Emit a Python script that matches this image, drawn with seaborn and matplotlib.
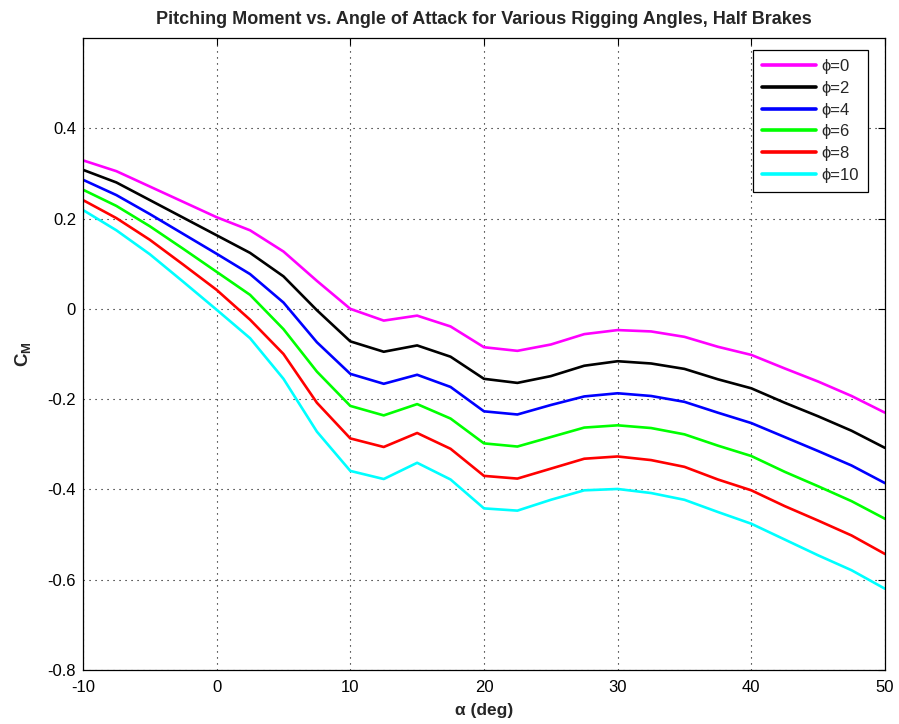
import numpy as np
import pandas as pd
import matplotlib
matplotlib.use("Agg")
import matplotlib.pyplot as plt
from matplotlib.lines import Line2D
import seaborn as sns

# Angle of attack (deg)
alpha = [-10, -7.5, -5, -2.5, 0, 2.5, 5, 7.5, 10, 12.5, 15, 17.5, 20, 22.5,
         25, 27.5, 30, 32.5, 35, 37.5, 40, 42.5, 45, 47.5, 50]

# Pitching moment coefficient for each rigging angle
cm_phi0 = [0.329, 0.305, 0.271, 0.237, 0.203, 0.174, 0.127, 0.062, 0.000,
           -0.026, -0.015, -0.039, -0.085, -0.093, -0.079, -0.056, -0.047,
           -0.050, -0.062, -0.084, -0.102, -0.132, -0.161, -0.193, -0.230]
cm_phi2 = [0.308, 0.280, 0.241, 0.202, 0.163, 0.124, 0.072, -0.003, -0.072,
           -0.095, -0.081, -0.106, -0.155, -0.164, -0.149, -0.126, -0.116,
           -0.121, -0.133, -0.156, -0.176, -0.208, -0.238, -0.270, -0.308]
cm_phi4 = [0.286, 0.252, 0.210, 0.166, 0.122, 0.077, 0.014, -0.074, -0.144,
           -0.166, -0.146, -0.173, -0.227, -0.234, -0.213, -0.194, -0.187,
           -0.193, -0.206, -0.230, -0.253, -0.284, -0.315, -0.347, -0.386]
cm_phi6 = [0.264, 0.228, 0.183, 0.133, 0.082, 0.031, -0.045, -0.139, -0.215,
           -0.236, -0.211, -0.243, -0.298, -0.305, -0.284, -0.263, -0.258,
           -0.264, -0.278, -0.303, -0.326, -0.361, -0.393, -0.426, -0.465]
cm_phi8 = [0.241, 0.201, 0.153, 0.098, 0.042, -0.024, -0.100, -0.208, -0.287,
           -0.306, -0.275, -0.310, -0.370, -0.376, -0.354, -0.332, -0.327,
           -0.335, -0.350, -0.378, -0.402, -0.437, -0.469, -0.502, -0.543]
cm_phi10 = [0.219, 0.174, 0.121, 0.060, -0.002, -0.065, -0.155, -0.272, -0.359,
            -0.377, -0.341, -0.378, -0.442, -0.447, -0.423, -0.402, -0.399,
            -0.408, -0.423, -0.450, -0.476, -0.511, -0.546, -0.579, -0.620]

labels = ["ϕ=0", "ϕ=2", "ϕ=4", "ϕ=6", "ϕ=8", "ϕ=10"]
colors = ["#FF00FF", "#000000", "#0000FF", "#00FF00", "#FF0000", "#00FFFF"]
series = [cm_phi0, cm_phi2, cm_phi4, cm_phi6, cm_phi8, cm_phi10]

xticks = [-10, 0, 10, 20, 30, 40, 50]
yticks = [-0.8, -0.6, -0.4, -0.2, 0, 0.2, 0.4]

df = pd.concat(
    [pd.DataFrame({"alpha": alpha, "cm": s, "rig": lab}) for lab, s in zip(labels, series)],
    ignore_index=True,
)

sns.set_style("white")
plt.rcParams["font.family"] = ["Liberation Sans", "DejaVu Sans"]

fig = plt.figure(figsize=(8.99, 7.24), dpi=100)
ax = fig.add_axes([0.0923, 0.0746, 0.8921, 0.8729])

sns.lineplot(data=df, x="alpha", y="cm", hue="rig", hue_order=labels,
             palette=colors, linewidth=1.9, ax=ax, legend=False)

ax.set_xlim(-10, 50)
ax.set_ylim(-0.8, 0.6)
ax.set_xticks(xticks)
ax.set_yticks(yticks)
ax.set_xticklabels([f"{v:g}" for v in xticks])
ax.set_yticklabels([f"{v:g}" for v in yticks])

ax.grid(True, linestyle=(0, (1, 4.4)), color="black", linewidth=0.8)
ax.tick_params(direction="in", length=5, width=0.8, labelsize=12,
               top=True, right=True, colors="black")
ax.tick_params(axis="x", pad=7)
ax.tick_params(axis="y", pad=5)
for sp in ax.spines.values():
    sp.set_visible(True)
    sp.set_color("black")
    sp.set_linewidth(0.9)

ax.set_title("Pitching Moment vs. Angle of Attack for Various Rigging Angles, Half Brakes",
             fontsize=13, fontweight="bold", pad=10)
ax.set_xlabel("α (deg)", fontsize=12.5, fontweight="bold", labelpad=6)
ax.set_ylabel(r"C$_\mathregular{M}$", fontsize=13.5, fontweight="bold", labelpad=10)

handles = [Line2D([0], [0], color=c, linewidth=2.6) for c in colors]
leg = ax.legend(handles, labels, loc="upper right", bbox_to_anchor=(0.979, 0.981),
                fontsize=12, frameon=True, fancybox=False, edgecolor="black",
                framealpha=1, handlelength=3.25, handletextpad=0.3,
                labelspacing=0.4, borderpad=0.55, borderaxespad=0)
leg.get_frame().set_linewidth(0.9)

fig.savefig("out.png", dpi=100)
